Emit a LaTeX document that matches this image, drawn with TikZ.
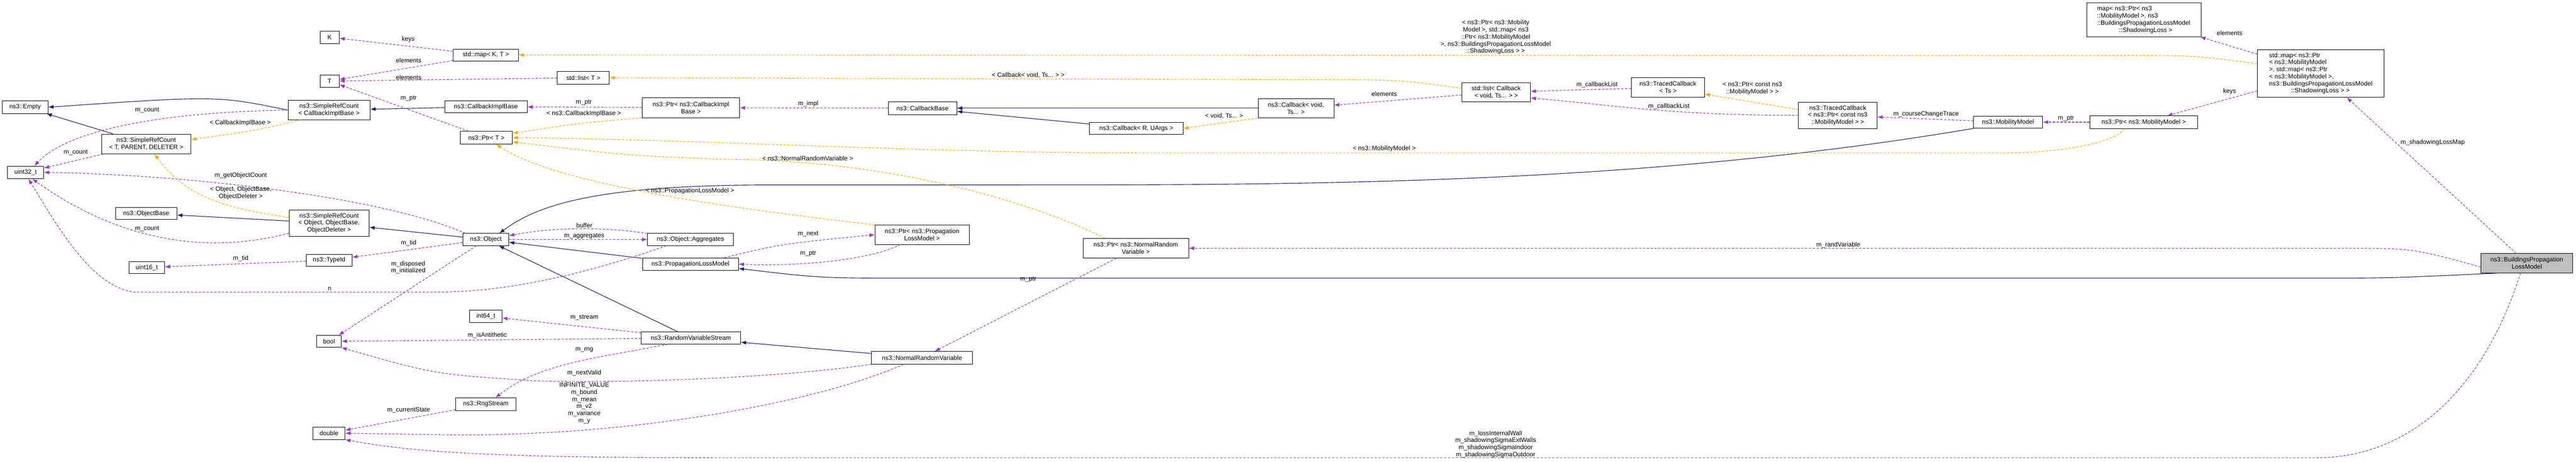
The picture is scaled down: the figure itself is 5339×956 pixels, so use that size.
\documentclass[tikz,border=0pt]{standalone}
\usepackage{fontspec}
\setmainfont{Liberation Sans}
\usetikzlibrary{arrows.meta}
\definecolor{inhcol}{HTML}{191970}
\definecolor{usecol}{HTML}{9A32CD}
\definecolor{tplcol}{HTML}{FFA500}
\tikzset{>=stealth,
  cls/.style={draw, thick, inner sep=2pt, align=center, font=\fontsize{13}{14.7}\selectfont},
  lbl/.style={inner sep=0pt, align=center, font=\fontsize{13}{14.7}\selectfont},
  inh/.style={-{Latex[length=11pt,width=8pt]}, inhcol, line width=1.2pt},
  use/.style={-{Latex[length=11pt,width=8pt]}, usecol, line width=1.2pt, dash pattern=on 5pt off 3pt},
  tpl/.style={-{Latex[length=11pt,width=8pt]}, tplcol, line width=1.2pt, dash pattern=on 5pt off 3pt}}

\begin{document}
\begin{tikzpicture}[x=1pt, y=-1pt]
    \useasboundingbox (0,0) rectangle (5339,956);
    \node[cls, minimum width=40, minimum height=26] (K) at (683,77) {K};
    \node[cls, minimum width=40, minimum height=26] (T) at (683,168) {T};
    \node[cls, minimum width=135, minimum height=25] (mapKT) at (1007,114) {std::map< K, T >};
    \node[cls, minimum width=108, minimum height=26] (listT) at (1209,161) {std::list< T >};
    \node[cls, minimum width=95, minimum height=26] (empty) at (52,222) {ns3::Empty};
    \node[cls, minimum width=170, minimum height=40] (srccb) at (682,228) {ns3::SimpleRefCount\\< CallbackImplBase >};
    \node[cls, minimum width=171, minimum height=25] (cib) at (1007,221) {ns3::CallbackImplBase};
    \node[cls, minimum width=108, minimum height=26] (ptrT) at (1008,285) {ns3::Ptr< T >};
    \node[cls, minimum width=202, minimum height=41] (ptrcib) at (1432,223) {ns3::Ptr< ns3::CallbackImpl\\Base >};
    \node[cls, minimum width=185, minimum height=41] (srctpd) at (303,298) {ns3::SimpleRefCount\\< T, PARENT, DELETER >};
    \node[cls, minimum width=75, minimum height=26] (uint32) at (53,357) {uint32\_t};
    \node[cls, minimum width=127, minimum height=25] (objbase) at (303,442) {ns3::ObjectBase};
    \node[cls, minimum width=166, minimum height=55] (srcobj) at (682,462) {ns3::SimpleRefCount\\< Object, ObjectBase,\\ ObjectDeleter >};
    \node[cls, minimum width=95, minimum height=25] (object) at (1007,496) {ns3::Object};
    \node[cls, minimum width=178, minimum height=25] (aggr) at (1431,496) {ns3::Object::Aggregates};
    \node[cls, minimum width=199, minimum height=26] (plm) at (1431,547) {ns3::PropagationLossModel};
    \node[cls, minimum width=74, minimum height=25] (uint16) at (304,554) {uint16\_t};
    \node[cls, minimum width=95, minimum height=25] (typeid) at (682,539) {ns3::TypeId};
    \node[cls, minimum width=51, minimum height=25] (bool) at (682,707) {bool};
    \node[cls, minimum width=67, minimum height=25] (int64) at (1007,655) {int64\_t};
    \node[cls, minimum width=206, minimum height=25] (rvs) at (1432,700) {ns3::RandomVariableStream};
    \node[cls, minimum width=125, minimum height=26] (rng) at (1007,837) {ns3::RngStream};
    \node[cls, minimum width=66, minimum height=26] (double) at (682,897) {double};
    \node[cls, minimum width=142, minimum height=26] (cbbase) at (1912,224) {ns3::CallbackBase};
    \node[cls, minimum width=194, minimum height=25] (cbR) at (2355,266) {ns3::Callback< R, UArgs >};
    \node[cls, minimum width=195, minimum height=40] (ptrplm) at (1911,486) {ns3::Ptr< ns3::Propagation\\LossModel >};
    \node[cls, minimum width=219, minimum height=41] (ptrnrv) at (2354,514) {ns3::Ptr< ns3::NormalRandom\\Variable >};
    \node[cls, minimum width=209, minimum height=26] (nrv) at (1911,741) {ns3::NormalRandomVariable};
    \node[cls, minimum width=157, minimum height=40] (cbvoid) at (2686,224) {ns3::Callback< void,\\ Ts... >};
    \node[cls, minimum width=142, minimum height=40] (listcb) at (3101,191) {std::list< Callback\\< void, Ts... > >};
    \node[cls, minimum width=151, minimum height=40] (tcts) at (3457,181) {ns3::TracedCallback\\< Ts >};
    \node[cls, minimum width=163, minimum height=55] (tcmm) at (3809,239) {ns3::TracedCallback\\< ns3::Ptr< const ns3\\::MobilityModel > >};
    \node[cls, minimum width=143, minimum height=25] (mm) at (4162,253) {ns3::MobilityModel};
    \node[cls, minimum width=237, minimum height=70, align=left] (mapsl) at (4443,41) {map< ns3::Ptr< ns3\\::MobilityModel >, ns3\\::BuildingsPropagationLossModel\\\hspace*{3.5em}::ShadowingLoss >};
    \node[cls, minimum width=263, minimum height=99, align=left] (mapbig) at (4810,152) {std::map< ns3::Ptr\\< ns3::MobilityModel\\ >, std::map< ns3::Ptr\\< ns3::MobilityModel >,\\ ns3::BuildingsPropagationLossModel\\\hspace*{3.5em}::ShadowingLoss > >};
    \node[cls, minimum width=223, minimum height=26] (ptrmm) at (4443,253) {ns3::Ptr< ns3::MobilityModel >};
    \node[cls, minimum width=190, minimum height=40, fill=black!25] (bplm) at (5237,545) {ns3::BuildingsPropagation\\LossModel};

    \draw[inh] (srccb.west) .. controls (450,198) .. (empty.east);
    \draw[inh] (srctpd) -- (empty);
    \draw[inh] (cib) -- (srccb);
    \draw[inh] (srcobj) -- (objbase);
    \draw[inh] (object) -- (srcobj);
    \draw[inh] (plm) -- (object);
    \draw[inh] (rvs) -- (object);
    \draw[inh] (mm.south west) .. controls (3400,383) and (2700,383) .. (2100,383) -- (1600,383) .. controls (1250,383) and (1120,420) .. ([xshift=28pt]object.north);
    \draw[inh] (bplm.200) .. controls (4950,576) .. (4800,576) -- (1900,576) .. controls (1700,576) .. ([yshift=-9pt]plm.east);
    \draw[inh] (nrv) -- (rvs);
    \draw[inh] (cbvoid) -- (cbbase);
    \draw[inh] (cbR) -- (cbbase);

    \draw[use] (srccb.west) .. controls (330,232) and (140,270) .. ([xshift=18pt]uint32.north);
    \draw[use] (srctpd) -- (uint32);
    \draw[use] ([xshift=5pt]object.north west) .. controls (800,410) and (400,362) .. (uint32.east);
    \draw[use] ([yshift=-21pt]srcobj.west) .. controls (400,535) and (220,480) .. ([xshift=14pt]uint32.south);
    \draw[use] ([xshift=-50pt]aggr.south) .. controls (1150,590) and (1000,605) .. (900,605) -- (280,605) .. controls (190,595) and (120,470) .. ([xshift=6pt]uint32.south);
    \draw[use] (typeid) -- (uint16);
    \draw[use] (object) -- (typeid);
    \draw[use] (object) -- (bool);
    \draw[use] (mapKT) -- (K);
    \draw[use] (mapKT) -- (T);
    \draw[use] (listT) -- (T);
    \draw[use] (ptrT) -- (T);
    \draw[use] (ptrcib) -- (cib);
    \draw[use] (cbbase) -- (ptrcib);
    \draw[use] (listcb) -- (cbvoid);
    \draw[use] (tcts) -- (listcb);
    \draw[use] (tcmm.west) .. controls (3450,238) and (3350,218) .. ([yshift=-12pt]listcb.east);
    \draw[use] (mm) -- (tcmm);
    \draw[use] (ptrmm) -- (mm);
    \draw[use] (mapbig) -- (ptrmm);
    \draw[use] (mapbig) -- (mapsl);
    \draw[use] (bplm) -- (mapbig);
    \draw[use] ([yshift=-8pt]bplm.west) .. controls (5000,514) .. (4850,514) -- (ptrnrv.east);
    \draw[use] (ptrnrv) -- (nrv);
    \draw[use] (aggr.north west) .. controls (1250,470) and (1150,470) .. ([yshift=8pt]object.east);
    \draw[use] (object.east) -- (aggr.west);
    \draw[use] ([xshift=-30pt]plm.north east) .. controls (1620,505) .. (ptrplm.west);
    \draw[use] ([xshift=-45pt]ptrplm.south) .. controls (1800,540) and (1650,552) .. (plm.east);
    \draw[use] (rvs) -- (int64);
    \draw[use] (rvs) -- (bool);
    \draw[use] ([xshift=-48pt]rvs.south) .. controls (1250,740) and (1120,750) .. ([xshift=20pt]rng.north);
    \draw[use] (nrv.south west) .. controls (1600,785) and (1250,795) .. (1100,788) .. controls (900,775) .. (bool.south east);
    \draw[use] ([xshift=-38pt]nrv.south) .. controls (1700,830) and (1400,880) .. (1150,895) .. controls (1000,902) .. (double.east);
    \draw[use] (rng) -- (double);
    \draw[use] ([xshift=-13pt]bplm.south) .. controls (5150,800) and (5000,948) .. (4800,948) -- (1500,948) .. controls (1000,948) and (850,935) .. (double.south east);

    \draw[tpl] ([xshift=-59pt]srccb.south) .. controls (520,272) .. ([yshift=9pt]srctpd.east);
    \draw[tpl] ([yshift=12pt]srcobj.west) .. controls (450,430) and (380,400) .. ([xshift=17pt]srctpd.south);
    \draw[tpl] (ptrcib.south west) .. controls (1200,255) .. ([yshift=9pt]ptrT.east);
    \draw[tpl] ([xshift=-40pt]ptrmm.south) .. controls (4380,300) and (4250,317) .. (4150,317) -- (2400,317) .. controls (1900,317) and (1500,290) .. (ptrT.east);
    \draw[tpl] ([xshift=-64pt]ptrnrv.north) .. controls (2100,400) and (1800,330) .. (1500,330) .. controls (1300,322) .. ([yshift=-9pt]ptrT.east);
    \draw[tpl] (ptrplm.north west) .. controls (1500,430) and (1150,380) .. ([xshift=20pt]ptrT.south);
    \draw[tpl] ([yshift=20pt]mapbig.west) .. controls (4550,115) .. (4400,115) -- (mapKT.east);
    \draw[tpl] ([yshift=8pt]listcb.west) .. controls (2900,165) .. (2700,165) -- (listT.east);
    \draw[tpl] (cbvoid.south west) -- (cbR.east);
    \draw[tpl] ([yshift=12pt]tcmm.west) -- ([yshift=-14pt]tcts.east);

    \node[lbl] (l1) at (846,81) {keys};
    \node[lbl] (l2) at (847,125) {elements};
    \node[lbl] (l3) at (847,160) {elements};
    \node[lbl] (l4) at (847,204) {m\_ptr};
    \node[lbl] (l5) at (305,228) {m\_count};
    \node[lbl] (l6) at (498,254) {< CallbackImplBase >};
    \node[lbl] (l7) at (157,316) {m\_count};
    \node[lbl] (l8) at (499,363) {m\_getObjectCount};
    \node[lbl] (l9) at (499,400) {< Object, ObjectBase,\\ObjectDeleter >};
    \node[lbl] (l10) at (305,474) {m\_count};
    \node[lbl] (l11) at (499,535) {m\_tid};
    \node[lbl] (l12) at (683,598) {n};
    \node[lbl] (l13) at (1210,212) {m\_ptr};
    \node[lbl] (l14) at (1210,235) {< ns3::CallbackImplBase >};
    \node[lbl] (l15) at (1211,467) {buffer};
    \node[lbl] (l16) at (1211,489) {m\_aggregates};
    \node[lbl] (l17) at (847,503) {m\_tid};
    \node[lbl] (l18) at (846,554) {m\_disposed\\m\_initialized};
    \node[lbl] (l19) at (1211,658) {m\_stream};
    \node[lbl] (l20) at (1010,694) {m\_isAntithetic};
    \node[lbl] (l21) at (1211,725) {m\_rng};
    \node[lbl] (l22) at (1211,772) {m\_nextValid};
    \node[lbl] (l23) at (1211,835) {INFINITE\_VALUE\\m\_bound\\m\_mean\\m\_v2\\m\_variance\\m\_y};
    \node[lbl] (l24) at (847,849) {m\_currentState};
    \node[lbl] (l25) at (1430,395) {< ns3::PropagationLossModel >};
    \node[lbl] (l26) at (1675,215) {m\_impl};
    \node[lbl] (l27) at (2131,156) {< Callback< void, Ts... > >};
    \node[lbl] (l28) at (1674,328) {< ns3::NormalRandomVariable >};
    \node[lbl] (l29) at (1675,484) {m\_next};
    \node[lbl] (l30) at (1675,525) {m\_ptr};
    \node[lbl] (l31) at (2131,579) {m\_ptr};
    \node[lbl] (l32) at (2537,240) {< void, Ts... >};
    \node[lbl] (l33) at (2869,194) {elements};
    \node[lbl] (l34) at (2869,308) {< ns3::MobilityModel >};
    \node[lbl] (l35) at (3100,77) {< ns3::Ptr< ns3::Mobility\\Model >, std::map< ns3\\::Ptr< ns3::MobilityModel\\ >, ns3::BuildingsPropagationLossModel\\::ShadowingLoss > >};
    \node[lbl] (l36) at (3310,175) {m\_callbackList};
    \node[lbl] (l37) at (3459,220) {m\_callbackList};
    \node[lbl] (l38) at (3632,183) {< ns3::Ptr< const ns3\\::MobilityModel > >};
    \node[lbl] (l39) at (3992,236) {m\_courseChangeTrace};
    \node[lbl] (l40) at (4282,245) {m\_ptr};
    \node[lbl] (l41) at (4621,69) {elements};
    \node[lbl] (l42) at (4621,189) {keys};
    \node[lbl] (l43) at (5042,295) {m\_shadowingLossMap};
    \node[lbl] (l44) at (3810,507) {m\_randVariable};
    \node[lbl] (l45) at (3100,920) {m\_lossInternalWall\\m\_shadowingSigmaExtWalls\\m\_shadowingSigmaIndoor\\m\_shadowingSigmaOutdoor};
\end{tikzpicture}
\end{document}
